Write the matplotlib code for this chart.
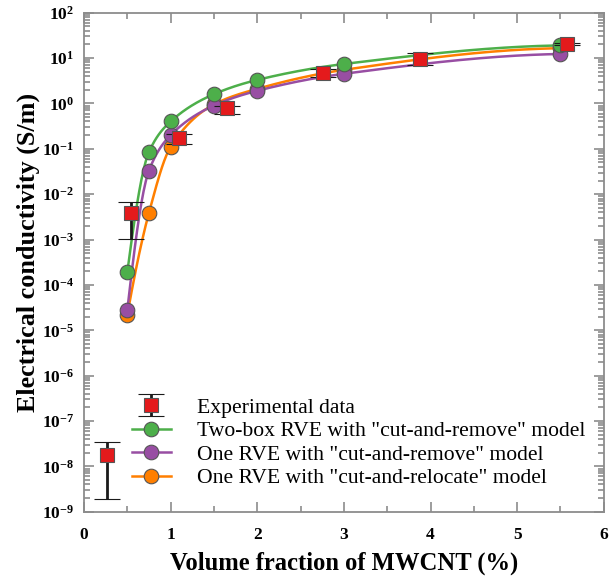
import numpy as np
import matplotlib
matplotlib.use("Agg")
import matplotlib.pyplot as plt
from matplotlib.ticker import LogLocator, FixedLocator, FuncFormatter, NullFormatter

plt.rcParams['font.family'] = ['Liberation Serif', 'DejaVu Serif']
plt.rcParams['mathtext.fontset'] = 'custom'
plt.rcParams['mathtext.rm'] = 'Liberation Serif:bold'
plt.rcParams['mathtext.bf'] = 'Liberation Serif:bold'
plt.rcParams['mathtext.it'] = 'Liberation Serif:bold:italic'

# Experimental measurements (volume fraction %, conductivity S/m, error range)
exp_x = [0.265, 0.54, 1.10, 1.65, 2.76, 3.88, 5.57]
exp_y = [1.75e-8, 3.8e-3, 0.175, 0.78, 4.7, 9.5, 20.4]
exp_lo = [1.9e-9, 1.05e-3, 0.13, 0.60, 3.8, 7.0, 19.0]
exp_hi = [3.4e-8, 6.6e-3, 0.21, 0.90, 5.7, 12.9, 22.0]

# Simulation results
model_x = [0.5, 0.75, 1.0, 1.5, 2.0, 3.0, 5.5]
two_box_remove = [1.9e-4, 0.085, 0.40, 1.6, 3.3, 7.4, 19.0]
one_rve_remove = [2.8e-5, 0.033, 0.20, 0.90, 1.9, 4.5, 12.3]
one_rve_relocate = [2.2e-5, 3.9e-3, 0.11, 0.95, 2.1, 5.5, 16.5]

labels = ['Experimental data',
          'Two-box RVE with "cut-and-remove" model',
          'One RVE with "cut-and-remove" model',
          'One RVE with "cut-and-relocate" model']

c_exp = '#e41a1c'
c_green = '#4daf4a'
c_purple = '#984ea3'
c_orange = '#ff7f00'


def pchip(x, y, xs):
    """Monotone piecewise cubic Hermite interpolation (Fritsch-Carlson)."""
    x = np.asarray(x, float)
    y = np.asarray(y, float)
    h = np.diff(x)
    d = np.diff(y) / h
    n = len(x)
    m = np.zeros(n)
    for k in range(1, n - 1):
        if d[k - 1] * d[k] > 0:
            w1 = 2 * h[k] + h[k - 1]
            w2 = h[k] + 2 * h[k - 1]
            m[k] = (w1 + w2) / (w1 / d[k - 1] + w2 / d[k])
    m[0] = ((2 * h[0] + h[1]) * d[0] - h[0] * d[1]) / (h[0] + h[1])
    if np.sign(m[0]) != np.sign(d[0]):
        m[0] = 0
    elif np.sign(d[0]) != np.sign(d[1]) and abs(m[0]) > abs(3 * d[0]):
        m[0] = 3 * d[0]
    m[-1] = ((2 * h[-1] + h[-2]) * d[-1] - h[-1] * d[-2]) / (h[-1] + h[-2])
    if np.sign(m[-1]) != np.sign(d[-1]):
        m[-1] = 0
    elif np.sign(d[-1]) != np.sign(d[-2]) and abs(m[-1]) > abs(3 * d[-1]):
        m[-1] = 3 * d[-1]
    idx = np.clip(np.searchsorted(x, xs) - 1, 0, n - 2)
    t = (xs - x[idx]) / h[idx]
    h00 = 2 * t**3 - 3 * t**2 + 1
    h10 = t**3 - 2 * t**2 + t
    h01 = -2 * t**3 + 3 * t**2
    h11 = t**3 - t**2
    return (h00 * y[idx] + h10 * h[idx] * m[idx]
            + h01 * y[idx + 1] + h11 * h[idx] * m[idx + 1])


fig = plt.figure(figsize=(6.13, 5.77), dpi=100)
ax = fig.add_axes([0.137, 0.113, 0.848, 0.865])
ax.set_yscale('log')

xs = np.linspace(model_x[0], model_x[-1], 400)
mkw = dict(marker='o', markersize=10.5, markeredgecolor='#555555',
           markeredgewidth=0.8, linestyle='none')
series = [(one_rve_relocate, c_orange, labels[3]),
          (one_rve_remove, c_purple, labels[2]),
          (two_box_remove, c_green, labels[1])]
handles = {}
for vals, col, lab in series:
    ys = 10 ** pchip(model_x, np.log10(vals), xs)
    ax.plot(xs, ys, color=col, lw=1.8, zorder=2)
    ax.plot(model_x, vals, color=col, markerfacecolor=col, zorder=3, **mkw)
    handles[lab] = plt.Line2D([], [], color=col, lw=1.8, marker='o',
                              markersize=10.5, markerfacecolor=col,
                              markeredgecolor='#555555', markeredgewidth=0.8)

ey = np.array(exp_y)
yerr = [ey - np.array(exp_lo), np.array(exp_hi) - ey]
eb = ax.errorbar(exp_x, exp_y, yerr=yerr, fmt='s', color=c_exp,
                 markersize=10.5, markerfacecolor=c_exp,
                 markeredgecolor='#555555', markeredgewidth=0.8,
                 ecolor='#1a1a1a', elinewidth=2.0, capsize=9.5,
                 capthick=2.0, zorder=5)

ax.set_xlim(0, 6)
ax.set_ylim(1e-9, 1e2)

ax.xaxis.set_major_locator(FixedLocator(range(0, 7)))
ax.xaxis.set_minor_locator(FixedLocator(np.arange(0.5, 6, 1.0)))
ax.yaxis.set_major_locator(LogLocator(base=10, numticks=20))
ax.yaxis.set_minor_locator(LogLocator(base=10, subs=np.arange(2, 10), numticks=20))
ax.yaxis.set_minor_formatter(NullFormatter())
ax.yaxis.set_major_formatter(FuncFormatter(
    lambda v, p: r'$\mathbf{10^{%d}}$' % int(round(np.log10(v)))))
ax.xaxis.set_major_formatter(FuncFormatter(lambda v, p: '%d' % v))

spine_col = '#8c8c8c'
for s in ax.spines.values():
    s.set_color(spine_col)
    s.set_linewidth(1.3)
ax.tick_params(which='both', direction='in', top=True, right=True,
               color=spine_col, width=1.2)
ax.tick_params(which='major', length=7, labelsize=12.5, pad=7)
ax.tick_params(axis='x', which='major', pad=11)
ax.tick_params(which='minor', length=4)
for lab in ax.get_xticklabels():
    lab.set_fontweight('bold')

ax.set_xlabel('Volume fraction of MWCNT (%)', fontsize=17.7, fontweight='bold',
              labelpad=6)
ax.set_ylabel('Electrical conductivity (S/m)', fontsize=18.8, fontweight='bold',
              labelpad=1.5)
ax.yaxis.label.set_y(0.52)

leg = ax.legend([eb, handles[labels[1]], handles[labels[2]], handles[labels[3]]],
                labels, loc='lower left', bbox_to_anchor=(0.075, 0.03),
                frameon=False, fontsize=15.6, handlelength=1.8,
                handletextpad=1.2, labelspacing=0.15, borderaxespad=0)

fig.savefig('out.png', dpi=100)
